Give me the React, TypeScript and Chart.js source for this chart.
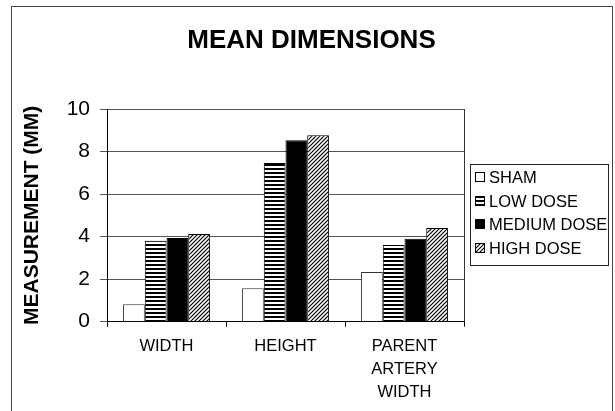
import React, { useEffect, useRef } from 'react';
import { Chart, registerables } from 'chart.js';

Chart.register(...registerables);

const FONT = '"Liberation Sans", Arial, Helvetica, sans-serif';

const categories: (string | string[])[] = ['WIDTH', 'HEIGHT', ['PARENT', 'ARTERY', 'WIDTH']];
const seriesNames = ['SHAM', 'LOW DOSE', 'MEDIUM DOSE', 'HIGH DOSE'];
const sham = [0.82, 1.57, 2.34];
const lowDose = [3.8, 7.46, 3.61];
const mediumDose = [3.93, 8.53, 3.9];
const highDose = [4.12, 8.77, 4.4];
const yMin = 0;
const yMax = 10;
const yStep = 2;

function makeStripes(ctx: CanvasRenderingContext2D) {
  const c = document.createElement('canvas');
  c.width = 4;
  c.height = 4;
  const g = c.getContext('2d')!;
  g.fillStyle = '#fff';
  g.fillRect(0, 0, 4, 4);
  g.fillStyle = '#000';
  g.fillRect(0, 0, 4, 2);
  return ctx.createPattern(c, 'repeat')!;
}

function makeHatch(ctx: CanvasRenderingContext2D) {
  const c = document.createElement('canvas');
  c.width = 4;
  c.height = 4;
  const g = c.getContext('2d')!;
  g.fillStyle = '#fff';
  g.fillRect(0, 0, 4, 4);
  g.strokeStyle = '#000';
  g.lineWidth = 1.2;
  g.beginPath();
  g.moveTo(-1, 5);
  g.lineTo(5, -1);
  g.moveTo(-1, 1);
  g.lineTo(1, -1);
  g.moveTo(3, 5);
  g.lineTo(5, 3);
  g.stroke();
  return ctx.createPattern(c, 'repeat')!;
}

const decorPlugin = {
  id: 'decor',
  afterDraw(chart: any) {
    const { ctx, chartArea } = chart;
    ctx.save();
    // outer frame
    ctx.strokeStyle = '#444';
    ctx.lineWidth = 1;
    ctx.strokeRect(11.5, 6.5, 601, 420);
    // plot area right edge
    ctx.strokeStyle = '#333';
    ctx.beginPath();
    ctx.moveTo(Math.round(chartArea.right) + 0.5, chartArea.top);
    ctx.lineTo(Math.round(chartArea.right) + 0.5, chartArea.bottom);
    ctx.stroke();
    // legend
    const lx = Math.round(chartArea.right) + 6;
    const ly = 164;
    ctx.strokeStyle = '#222';
    ctx.strokeRect(lx + 0.5, ly + 0.5, 138, 101);
    ctx.font = `16.5px ${FONT}`;
    ctx.textBaseline = 'middle';
    ctx.textAlign = 'left';
    chart.data.datasets.forEach((d: any, i: number) => {
      const y = Math.round(ly + 13 + i * 23.7);
      ctx.fillStyle = d.backgroundColor;
      ctx.fillRect(lx + 5, y - 5, 10, 10);
      ctx.strokeStyle = '#000';
      ctx.strokeRect(lx + 5.5, y - 4.5, 9, 9);
      ctx.fillStyle = '#000';
      ctx.fillText(d.label, lx + 19, y + 1);
    });
    ctx.restore();
  },
};

export default function App() {
  const ref = useRef<HTMLCanvasElement | null>(null);

  useEffect(() => {
    const canvas = ref.current!;
    const ctx = canvas.getContext('2d')!;
    const stripes = makeStripes(ctx);
    const hatch = makeHatch(ctx);

    const chart = new Chart(canvas, {
      type: 'bar',
      data: {
        labels: categories,
        datasets: [
          { label: seriesNames[0], data: sham, backgroundColor: '#fff', borderColor: '#333', borderWidth: 1 },
          { label: seriesNames[1], data: lowDose, backgroundColor: stripes as any, borderColor: '#000', borderWidth: 1 },
          { label: seriesNames[2], data: mediumDose, backgroundColor: '#000', borderColor: '#000', borderWidth: 1 },
          { label: seriesNames[3], data: highDose, backgroundColor: hatch as any, borderColor: '#000', borderWidth: 1 },
        ],
      },
      options: {
        responsive: false,
        animation: false,
        devicePixelRatio: 1,
        layout: { padding: { left: 8, right: 0, top: 0, bottom: 0 } },
        datasets: {
          bar: { categoryPercentage: 0.73, barPercentage: 1 },
        },
        plugins: {
          legend: { display: false },
          tooltip: { enabled: false },
          title: {
            display: true,
            text: 'MEAN DIMENSIONS',
            color: '#000',
            font: { family: FONT, size: 26, weight: 'bold', lineHeight: 1.2 },
            padding: { top: 25, bottom: 52.8 },
          },
        },
        scales: {
          x: {
            type: 'category',
            afterFit: (scale: any) => {
              scale.height = 89.3;
            },
            grid: {
              display: true,
              drawOnChartArea: false,
              drawTicks: true,
              tickLength: 5,
              color: '#000',
              offset: true,
            },
            border: { display: true, color: '#000', width: 1 },
            ticks: {
              color: '#000',
              padding: 8,
              maxRotation: 0,
              autoSkip: false,
              font: { family: FONT, size: 16.5, lineHeight: 1.41 },
            },
          },
          y: {
            type: 'linear',
            position: 'left',
            min: yMin,
            max: yMax,
            afterFit: (scale: any) => {
              scale.width = 99;
            },
            grid: {
              color: '#555',
              lineWidth: 1,
              drawTicks: true,
              tickLength: 7,
            },
            border: { display: true, color: '#000', width: 1 },
            ticks: {
              stepSize: yStep,
              color: '#000',
              padding: 10,
              font: { family: FONT, size: 21 },
            },
            title: {
              display: true,
              text: 'MEASUREMENT (MM)',
              color: '#000',
              font: { family: FONT, size: 21, weight: 'bold', lineHeight: 1.2 },
              padding: { top: 12, bottom: 0 },
            },
          },
          spacer: {
            type: 'linear',
            position: 'right',
            display: true,
            afterFit: (scale: any) => {
              scale.width = 151;
            },
            grid: { display: false, drawTicks: false },
            border: { display: false },
            ticks: { display: false },
          },
        },
      } as any,
      plugins: [decorPlugin],
    });

    return () => chart.destroy();
  }, []);

  return (
    <div style={{ position: 'absolute', left: 0, top: 0, width: 615, height: 411, background: '#fff' }}>
      <canvas ref={ref} width={615} height={411} style={{ display: 'block' }} />
    </div>
  );
}
